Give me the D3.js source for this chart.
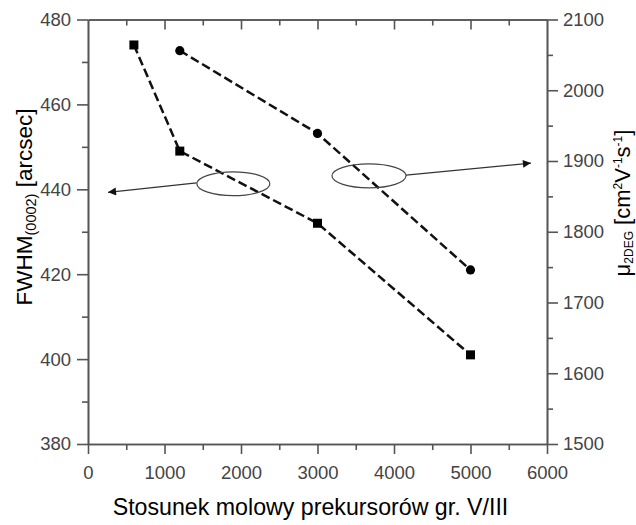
<!DOCTYPE html>
<html><head><meta charset="utf-8">
<script src="https://cdn.jsdelivr.net/npm/d3@7"></script>
<style>
body{margin:0;background:#fff;}
svg{display:block;font-family:"Liberation Sans",Arial,sans-serif;}
</style></head>
<body>
<svg id="chart" width="636" height="525"></svg>
<script>
// ---- data ----
const ratioFWHM = [600, 1200, 3000, 5000];
const fwhm = [474, 449, 432, 401];
const ratioMu = [1200, 3000, 5000];
const mobility = [2056, 1939, 1746];
const xTicks = [0, 1000, 2000, 3000, 4000, 5000, 6000];
const xMinor = [500, 1500, 2500, 3500, 4500, 5500];
const yLeftTicks = [380, 400, 420, 440, 460, 480];
const yLeftMinor = [390, 410, 430, 450, 470];
const yRightTicks = [1500, 1600, 1700, 1800, 1900, 2000, 2100];
const yRightMinor = [1550, 1650, 1750, 1850, 1950, 2050];
// annotation ellipses (data units) and arrow targets
const annLeft = {cx: 1900, cy: 441.3, rx: 477, ry: 2.8, from: [1420, 441.5], to: [262, 439.3]};
const annRight = {cx: 3673, cy: 1879, rx: 484, ry: 17, from: [4157, 1880], to: [5790, 1897]};

const svg = d3.select("#chart");
const L = 88, R = 547, T = 19.5, B = 444;
const x = d3.scaleLinear().domain([0, 6000]).range([L, R]);
const yL = d3.scaleLinear().domain([380, 480]).range([B, T]);
const yR = d3.scaleLinear().domain([1500, 2100]).range([B, T]);

const axisColor = "#555";
const labelColor = "#444";

function style(g){
  g.selectAll("path.domain").attr("stroke", axisColor).attr("stroke-width", 1.6);
  g.selectAll(".tick line").attr("stroke", axisColor).attr("stroke-width", 1.6);
  g.selectAll(".tick text").attr("fill", labelColor).attr("font-size", 18.5).attr("font-family", "Liberation Sans, Arial, sans-serif");
}

// bottom axis
svg.append("g").attr("transform", `translate(0,${B})`)
  .call(d3.axisBottom(x).tickValues(xMinor).tickSize(6).tickFormat("").tickSizeOuter(0))
  .call(style);
svg.append("g").attr("transform", `translate(0,${B})`)
  .call(d3.axisBottom(x).tickValues(xTicks).tickSize(10).tickPadding(12).tickFormat(d3.format("d")).tickSizeOuter(0))
  .call(style);
// top axis (inward ticks)
svg.append("g").attr("transform", `translate(0,${T})`)
  .call(d3.axisTop(x).tickValues(xMinor).tickSize(-6).tickFormat("").tickSizeOuter(0))
  .call(style);
svg.append("g").attr("transform", `translate(0,${T})`)
  .call(d3.axisTop(x).tickValues(xTicks.slice(1,-1)).tickSize(-10).tickFormat("").tickSizeOuter(0))
  .call(style);
// left axis
svg.append("g").attr("transform", `translate(${L},0)`)
  .call(d3.axisLeft(yL).tickValues(yLeftMinor).tickSize(6).tickFormat("").tickSizeOuter(0))
  .call(style);
svg.append("g").attr("transform", `translate(${L},0)`)
  .call(d3.axisLeft(yL).tickValues(yLeftTicks).tickSize(11).tickPadding(6).tickFormat(d3.format("d")).tickSizeOuter(0))
  .call(style);
// right axis
svg.append("g").attr("transform", `translate(${R},0)`)
  .call(d3.axisRight(yR).tickValues(yRightMinor).tickSize(6).tickFormat("").tickSizeOuter(0))
  .call(style);
svg.append("g").attr("transform", `translate(${R},0)`)
  .call(d3.axisRight(yR).tickValues(yRightTicks).tickSize(11).tickPadding(5).tickFormat(d3.format("d")).tickSizeOuter(0))
  .call(style);

// series lines
const lineL = d3.line().x((d,i)=>x(ratioFWHM[i])).y(d=>yL(d));
const lineR = d3.line().x((d,i)=>x(ratioMu[i])).y(d=>yR(d));
svg.append("path").datum(fwhm).attr("d", lineL)
  .attr("fill","none").attr("stroke","#111").attr("stroke-width",2.5).attr("stroke-dasharray","9,4");
svg.append("path").datum(mobility).attr("d", lineR)
  .attr("fill","none").attr("stroke","#111").attr("stroke-width",2.5).attr("stroke-dasharray","9,4");

const sq = 9;
svg.selectAll("rect.m").data(fwhm).enter().append("rect").attr("class","m")
  .attr("x",(d,i)=>x(ratioFWHM[i])-sq/2).attr("y",d=>yL(d)-sq/2)
  .attr("width",sq).attr("height",sq).attr("fill","#000");
svg.selectAll("circle.m").data(mobility).enter().append("circle").attr("class","m")
  .attr("cx",(d,i)=>x(ratioMu[i])).attr("cy",d=>yR(d)).attr("r",4.6).attr("fill","#000");

// annotations
const defs = svg.append("defs");
defs.append("marker").attr("id","arr").attr("viewBox","0 0 10 10").attr("refX",10).attr("refY",5)
  .attr("markerWidth",11).attr("markerHeight",8).attr("markerUnits","userSpaceOnUse").attr("orient","auto")
  .append("path").attr("d","M0,0 L10,5 L0,10 z").attr("fill","#111");

function annot(a, ys){
  svg.append("ellipse").attr("cx",x(a.cx)).attr("cy",ys(a.cy))
    .attr("rx",x(a.cx+a.rx)-x(a.cx)).attr("ry",Math.abs(ys(a.cy+a.ry)-ys(a.cy)))
    .attr("fill","none").attr("stroke","#444").attr("stroke-width",1.2);
  svg.append("line").attr("x1",x(a.from[0])).attr("y1",ys(a.from[1]))
    .attr("x2",x(a.to[0])).attr("y2",ys(a.to[1]))
    .attr("stroke","#333").attr("stroke-width",1.3).attr("marker-end","url(#arr)");
}
annot(annLeft, yL);
annot(annRight, yR);

// axis titles
svg.append("text").attr("x",(L+R)/2 - 7).attr("y",515).attr("text-anchor","middle")
  .attr("font-size",23.2).attr("fill","#000").text("Stosunek molowy prekursorów gr. V/III");

const lt = svg.append("text").attr("transform","translate(31.5,207) rotate(-90)")
  .attr("text-anchor","middle").attr("font-size",22.5).attr("fill","#000");
lt.append("tspan").text("FWHM");
lt.append("tspan").attr("font-size",14.5).attr("dy",4).text("(0002)");
lt.append("tspan").attr("dy",-4).text(" [arcsec]");

const rt = svg.append("text").attr("transform","translate(630,203) rotate(-90)")
  .attr("text-anchor","middle").attr("font-size",22).attr("fill","#000");
rt.append("tspan").text("μ");
rt.append("tspan").attr("font-size",12).attr("dy",3).text("2DEG");
rt.append("tspan").attr("dy",-3).text(" [cm");
rt.append("tspan").attr("font-size",12).attr("dy",-8).text("2");
rt.append("tspan").attr("dy",8).text("V");
rt.append("tspan").attr("font-size",12).attr("dy",-8).text("-1");
rt.append("tspan").attr("dy",8).text("s");
rt.append("tspan").attr("font-size",12).attr("dy",-8).text("-1");
rt.append("tspan").attr("dy",8).text("]");
</script>
</body></html>
